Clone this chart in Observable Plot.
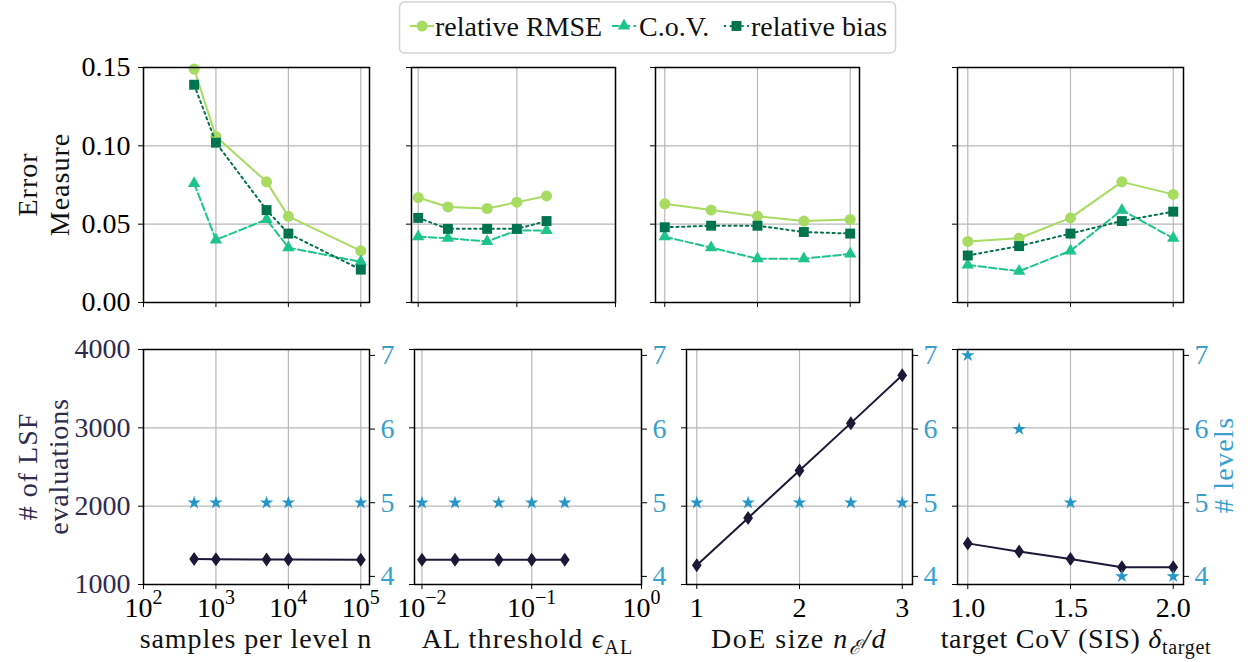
<!DOCTYPE html>
<html><head><meta charset="utf-8">
<script src="https://cdn.jsdelivr.net/npm/d3@7"></script>
<script src="https://cdn.jsdelivr.net/npm/@observablehq/plot@0.6"></script>
<style>
html,body{margin:0;padding:0;background:#fff;}
#chart{position:relative;width:1251px;height:662px;overflow:hidden;background:#fff;font-family:'Liberation Serif',serif;}
#chart svg{position:absolute;overflow:visible;}
#chart svg, #chart svg text, #chart svg tspan{font-family:'Liberation Serif','DejaVu Serif',serif !important;}
</style></head><body><div id="chart"></div>
<script>
// ---------- data ----------
const samplesPerLevel = [500, 1000, 5000, 10000, 100000];
const rmseSamples = [0.149, 0.106, 0.077, 0.055, 0.033];
const covSamples  = [0.076, 0.040, 0.053, 0.035, 0.026];
const biasSamples = [0.139, 0.102, 0.059, 0.044, 0.021];
const lsfSamples  = [1325, 1322, 1320, 1318, 1316];
const levelsSamples = [5, 5, 5, 5, 5];

const alThreshold = [0.01, 0.02, 0.05, 0.1, 0.2];
const rmseAL = [0.067, 0.061, 0.060, 0.064, 0.068];
const covAL  = [0.042, 0.041, 0.039, 0.046, 0.046];
const biasAL = [0.054, 0.047, 0.047, 0.047, 0.052];
const lsfAL  = [1315, 1315, 1315, 1315, 1315];
const levelsAL = [5, 5, 5, 5, 5];

const doeSize = [1, 1.5, 2, 2.5, 3];
const rmseDoE = [0.063, 0.059, 0.055, 0.052, 0.053];
const covDoE  = [0.042, 0.035, 0.028, 0.028, 0.031];
const biasDoE = [0.048, 0.049, 0.049, 0.045, 0.044];
const lsfDoE  = [1245, 1850, 2455, 3060, 3670];
const levelsDoE = [5, 5, 5, 5, 5];

const targetCoV = [1.0, 1.25, 1.5, 1.75, 2.0];
const rmseTarget = [0.039, 0.041, 0.054, 0.077, 0.069];
const covTarget  = [0.024, 0.020, 0.033, 0.059, 0.041];
const biasTarget = [0.030, 0.036, 0.044, 0.052, 0.058];
const lsfTarget  = [1525, 1420, 1325, 1220, 1220];
const levelsTarget = [7, 6, 5, 4, 4];

const errorTicks = [0, 0.05, 0.10, 0.15];
const lsfTicks = [1000, 2000, 3000, 4000];
const levelTicks = [4, 5, 6, 7];
const samplesTicks = [1e2, 1e3, 1e4, 1e5];
const alTicks = [1e-2, 1e-1, 1e0];
const doeTicks = [1, 2, 3];
const targetTicks = [1.0, 1.5, 2.0];

const seriesNames = ["relative RMSE", "C.o.V.", "relative bias"];

// ---------- style ----------
const FONT = "'Liberation Serif', serif";
const C_RMSE = "#a8db62", C_COV = "#1fc48c", C_BIAS = "#00734f";
const NAVY = "#1c1838", STAR = "#2596c8", BLUE_TXT = "#3a9fcf", NAVY_TXT = "#2e2b4f";
const GRID = "#b8b8b8";
const M = 50;
const chart = document.getElementById("chart");
const thinDiamond = {draw(ctx, size){ const r = Math.sqrt(size/Math.PI); ctx.moveTo(0,-r); ctx.lineTo(0.7*r,0); ctx.lineTo(0,r); ctx.lineTo(-0.7*r,0); ctx.closePath(); }};
const logFmt = v => "10^" + String(Math.round(Math.log10(v))).replace("-", "\u2212");

const panels = [
  {xs: samplesPerLevel, x: {type: "log", domain: [100, 10 ** 5.12]}, ticks: samplesTicks, fmt: logFmt,
   rmse: rmseSamples, cov: covSamples, bias: biasSamples, lsf: lsfSamples, lev: levelsSamples, topX: 143, topW: 226, botX: 143, botW: 226},
  {xs: alThreshold, x: {type: "log", domain: [10 ** -2.068, 1]}, ticks: alTicks, fmt: logFmt,
   rmse: rmseAL, cov: covAL, bias: biasAL, lsf: lsfAL, lev: levelsAL, topX: 411, topW: 204, botX: 414, botW: 227},
  {xs: doeSize, x: {type: "linear", domain: [0.9, 3.1]}, ticks: doeTicks, fmt: d3.format("d"),
   rmse: rmseDoE, cov: covDoE, bias: biasDoE, lsf: lsfDoE, lev: levelsDoE, topX: 655, topW: 204, botX: 686, botW: 226},
  {xs: targetCoV, x: {type: "linear", domain: [0.95, 2.05]}, ticks: targetTicks, fmt: d3.format(".1f"),
   rmse: rmseTarget, cov: covTarget, bias: biasTarget, lsf: lsfTarget, lev: levelsTarget, topX: 957, topW: 226, botX: 957, botW: 226}
];

const TOP_Y = 67, BOT_Y = 349, FH = 235;

function place(svg, fx, fy) {
  svg.style.left = (fx - M) + "px";
  svg.style.top = (fy - M) + "px";
  chart.appendChild(svg);
}
function supFix(svg) {
  d3.select(svg).selectAll("text").each(function () {
    const t = this.textContent;
    if (!t.includes("^")) return;
    const [b, e] = t.split("^");
    const sel = d3.select(this);
    sel.text(null);
    sel.append("tspan").text(b);
    sel.append("tspan").attr("dy", "-13").attr("font-size", "20px").text(e);
  });
}
const baseStyle = {fontFamily: FONT, fontSize: "28px", background: "transparent", color: "black", overflow: "visible"};

panels.forEach((p, i) => {
  const data = p.xs.map((x, k) => ({x, rmse: p.rmse[k], cov: p.cov[k], bias: p.bias[k], lsf: p.lsf[k], lev: p.lev[k]}));
  // top row: error measures
  const top = Plot.plot({
    width: p.topW + 2 * M, height: FH + 2 * M,
    marginLeft: M, marginRight: M, marginTop: M, marginBottom: M,
    style: baseStyle,
    x: p.x, y: {domain: [0, 0.15]},
    marks: [
      Plot.gridX({ticks: p.ticks, stroke: GRID, strokeOpacity: 1, strokeWidth: 1.2}),
      Plot.gridY({ticks: errorTicks, stroke: GRID, strokeOpacity: 1, strokeWidth: 1.2}),
      Plot.line(data, {x: "x", y: "rmse", stroke: C_RMSE, strokeWidth: 2}),
      Plot.dot(data, {x: "x", y: "rmse", r: 5.5, fill: C_RMSE, symbol: "circle"}),
      Plot.line(data, {x: "x", y: "cov", stroke: C_COV, strokeWidth: 2, strokeDasharray: "7.5,3.2"}),
      Plot.dot(data, {x: "x", y: "cov", r: 4.6, fill: C_COV, symbol: "triangle"}),
      Plot.line(data, {x: "x", y: "bias", stroke: C_BIAS, strokeWidth: 2, strokeDasharray: "2.2,3.6"}),
      Plot.dot(data, {x: "x", y: "bias", r: 5.6, fill: C_BIAS, symbol: "square"}),
      Plot.frame({stroke: "black", strokeWidth: 1.5}),
      Plot.axisX({ticks: p.ticks, tickSize: 5, tickFormat: () => "", label: null}),
      Plot.axisY({ticks: errorTicks, tickSize: 5, tickPadding: 8, label: null,
                  tickFormat: i === 0 ? d3.format(".2f") : () => ""})
    ]
  });
  place(top, p.topX, TOP_Y);

  // bottom row: LSF evaluations (left axis)
  const bot = Plot.plot({
    width: p.botW + 2 * M, height: FH + 2 * M,
    marginLeft: M, marginRight: M, marginTop: M, marginBottom: M,
    style: baseStyle,
    x: p.x, y: {domain: [1000, 4000]},
    marks: [
      Plot.gridX({ticks: p.ticks, stroke: GRID, strokeOpacity: 1, strokeWidth: 1.2}),
      Plot.gridY({ticks: lsfTicks, stroke: GRID, strokeOpacity: 1, strokeWidth: 1.2}),
      Plot.line(data, {x: "x", y: "lsf", stroke: NAVY, strokeWidth: 2}),
      Plot.dot(data, {x: "x", y: "lsf", r: 7, fill: NAVY, symbol: thinDiamond}),
      Plot.frame({stroke: "black", strokeWidth: 1.5}),
      Plot.axisX({ticks: p.ticks, tickSize: 5, tickPadding: 8, label: null, tickFormat: p.fmt}),
      Plot.axisY({ticks: lsfTicks, tickSize: 5, tickPadding: 8, label: null, fill: NAVY_TXT,
                  tickFormat: i === 0 ? d3.format("d") : () => ""})
    ]
  });
  supFix(bot);
  place(bot, p.botX, BOT_Y);

  // bottom row: number of levels (right axis, twin)
  const twin = Plot.plot({
    width: p.botW + 2 * M, height: FH + 2 * M,
    marginLeft: M, marginRight: M, marginTop: M, marginBottom: M,
    style: baseStyle,
    x: {...p.x, axis: null}, y: {domain: [3.89, 7.08]},
    marks: [
      Plot.dot(data, {x: "x", y: "lev", r: 4.2, fill: STAR, symbol: "star"}),
      Plot.axisY({anchor: "right", ticks: levelTicks, tickSize: 5, tickPadding: 6, label: null, fill: BLUE_TXT, tickFormat: d3.format("d")})
    ]
  });
  place(twin, p.botX, BOT_Y);
});

// ---------- legend and axis titles ----------
const ov = d3.create("svg").attr("width", 1251).attr("height", 662)
  .style("left", "0px").style("top", "0px").style("pointer-events", "none")
  .attr("font-family", FONT).attr("font-size", 28);

const lg = ov.append("g");
lg.append("rect").attr("x", 399.5).attr("y", 2).attr("width", 496).attr("height", 51).attr("rx", 5)
  .attr("fill", "white").attr("stroke", "#d4d4d4").attr("stroke-width", 1.5);
const legendItems = [
  {name: seriesNames[0], color: C_RMSE, dash: null, sym: d3.symbolCircle, r: 5.5, x0: 410, x1: 434, tx: 435},
  {name: seriesNames[1], color: C_COV, dash: "7.5,3.2", sym: d3.symbolTriangle, r: 4.6, x0: 612, x1: 636, tx: 639},
  {name: seriesNames[2], color: C_BIAS, dash: "2.2,3.6", sym: d3.symbolSquare, r: 5.6, x0: 724, x1: 749, tx: 751}
];
legendItems.forEach(it => {
  const ly = 26;
  lg.append("line").attr("x1", it.x0).attr("x2", it.x1).attr("y1", ly).attr("y2", ly)
    .attr("stroke", it.color).attr("stroke-width", 2).attr("stroke-dasharray", it.dash);
  lg.append("path").attr("d", d3.symbol(it.sym, Math.PI * it.r * it.r)())
    .attr("transform", `translate(${(it.x0 + it.x1) / 2},${ly})`).attr("fill", it.color);
  lg.append("text").attr("x", it.tx).attr("y", 36).attr("fill", "#111").text(it.name);
});

// x axis titles
const xl = ov.append("g").attr("text-anchor", "middle").attr("fill", "#111");
xl.append("text").attr("x", 256).attr("y", 648).attr("letter-spacing", "0.9px").text("samples per level n");
{
  const t = xl.append("text").attr("x", 527.5).attr("y", 648).attr("letter-spacing", "1.2px");
  t.append("tspan").text("AL threshold ");
  t.append("tspan").attr("font-style", "italic").text("\u03f5");
  t.append("tspan").attr("font-size", 20).attr("dy", 6).text("AL");
}
{
  const t = xl.append("text").attr("x", 799).attr("y", 648).attr("letter-spacing", "1.5px");
  t.append("tspan").text("DoE size ");
  t.append("tspan").attr("font-style", "italic").text("n");
  t.append("tspan").attr("font-size", 20).attr("dy", 6).attr("font-style", "italic").text("\u2130");
  t.append("tspan").attr("font-style", "italic").attr("dy", -6).text("/d");
}
{
  const t = xl.append("text").attr("x", 1076).attr("y", 648).attr("letter-spacing", "0.7px");
  t.append("tspan").text("target CoV (SIS) ");
  t.append("tspan").attr("font-style", "italic").text("\u03b4");
  t.append("tspan").attr("font-size", 20).attr("dy", 6).text("target");
}

// y axis titles
function vLabel(x, y, txt, color, ls) {
  ov.append("text").attr("transform", `translate(${x},${y}) rotate(-90)`).attr("text-anchor", "middle")
    .attr("fill", color).attr("letter-spacing", ls).text(txt);
}
vLabel(37, 184.5, "Error", "#111", "1px");
vLabel(69, 184.5, "Measure", "#111", "1px");
vLabel(37, 466.5, "# of LSF", NAVY_TXT, "1px");
vLabel(68, 466.5, "evaluations", NAVY_TXT, "0.8px");
vLabel(1233, 465, "# levels", BLUE_TXT, "1.3px");

chart.appendChild(ov.node());
</script>
</body></html>
